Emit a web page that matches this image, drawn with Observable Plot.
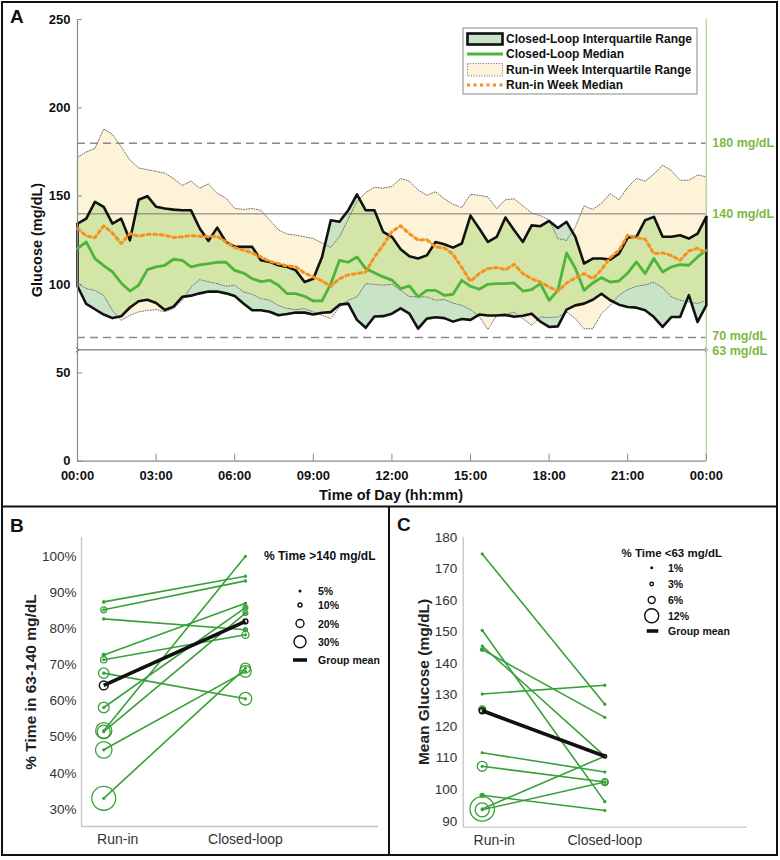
<!DOCTYPE html>
<html>
<head>
<meta charset="utf-8">
<script src="https://cdn.jsdelivr.net/npm/d3@7"></script>
<script src="https://cdn.jsdelivr.net/npm/@observablehq/plot@0.6"></script>
<style>
  body { margin: 0; background: #fff; }
  #wrap { position: relative; width: 780px; height: 860px; overflow: hidden; background: #fff; }
  #wrap svg { display: block; }
</style>
</head>
<body>
<div id="wrap"></div>
<script>
// ---------------- DATA: Panel A (glucose profile, 20-minute grid) ----------------
const minutes = [0,20,40,60,80,100,120,140,160,180,200,220,240,260,280,300,320,340,360,380,400,420,440,460,480,500,520,540,560,580,600,620,640,660,680,700,720,740,760,780,800,820,840,860,880,900,920,940,960,980,1000,1020,1040,1060,1080,1100,1120,1140,1160,1180,1200,1220,1240,1260,1280,1300,1320,1340,1360,1380,1400,1420,1440];

const runHi = [172,175,177, 188,185,178, 170.5,166,165, 164,163,160, 156,158.5,154.5, 157,151.5,149, 143,142.5,143, 142,136.5,131, 128.5,128,127, 126,123.5,121, 127,137,147, 152,155,154.5, 155.5,160,158.5, 153.5,150.5,152.5, 148.5,145.5,143.5, 151,150.5,149.5, 143,148,148.5, 144.5,140.5,139, 136.5,126,125, 132.5,144.5,142.5, 146,151.5,148, 155,160,158.5, 162.5,167.5,164.5, 159,159,162, 161];
const runLo = [100.5,97.7,96.7, 93.9,85.4,79.7, 82.6,84.5,85.4, 85.8,84.5,86.4, 91.1,98.6,102.8, 101.5,100.5,99, 99.6,95.8,94.5, 92,91.1,88.2, 86.4,85.8,86.4, 84.5,82.6,80.7, 87.3,91.1,93, 100.5,100.1,99.6, 100.1,96.7,93.3, 93,93,91.1, 91.5,89.5,88.2, 85.8,82,74.5, 82.6,83,84.3, 80.7,76.9,81.6, 81.3,81.6,84.5, 80.7,75,75, 83.5,88.2,93.9, 97.1,99,99.8, 101.3,98.2,93, 91.1,90.1,89.2, 91.1];
const runMed = [131.7,127.5,126.6, 133.2,129.2,123.2, 128.8,127.3,128.4, 128.4,127.9,126.6, 127,127.7,127.3, 127,127.3,124.1, 120.9,119.4,117.9, 115.6,113.1,111.8, 110.5,110,106.5, 104.3,102,99, 103.3,105.4,106.2, 107.1,115.6,122.2, 130,133.2,128.8, 125.1,125.4,121.3, 120.7,117.1,109.6, 101.8,106.2,109, 109.6,108.4,111.4, 106.2,103.3,101.4, 98.6,96.2,100.9, 103.7,106.2,103.3, 108.4,115.2,119.4, 127.9,126.6,125.6, 117.5,117.9,116.4, 113.7,119,120.5, 117.9];
const clHi = [134.5,137.3,146.8, 144,134.5,137.3, 125,148,150, 144,143,142.4, 142,142,131.7, 124.7,132.2,124.1, 121.5,121.3,121.3, 113.7,112.8,110.9, 110,108,101.4, 103.3,115.6,136.4, 135.5,142,151, 142,142,129.8, 127,120,116, 114.7,116.5,124.1, 122.8,120.9,123.2, 139,131.7,124.1, 126.9,137.9,130.7, 124.1,133.5,133, 136,132,135.5, 127,111.9,114.7, 114.7,114.1,117.5, 126.6,127,136.4, 138.3,127,127, 127.9,126,128.8, 138.3];
const clLo = [99,89,86, 83,81,82, 87,90.5,91.4, 89.5,85.6,87.5, 93,93.7,95, 96,96,95, 93.5,89.3,85.4, 85.4,84.6,82.6, 83.3,84.2,84.1, 83,84,84.4, 88.6,89.2,80, 75.5,81.9,82.1, 83.5,86.5,83.5, 75,80.7,81.5, 81,79,80.5, 80,83,82.5, 82.5,82.8,81.8, 82.3,83.5,79, 76,76.3,85.8, 88.2,89.2,91.4, 94.8,91.1,88.6, 87.3,86.9,85.4, 81.6,76,81.6, 81.6,94,78.8, 88.2];
const clMed = [120.3,124.1,114.7, 110.7,107.1,100.9, 96.3,99.6,108.4, 110,110.9,114.3, 113.7,110,111.1, 111.8,112.6,112.6, 108,106.5,103.3, 101.6,102.4,99.6, 94.8,94.8,93.3, 90.7,90.7,100.5, 113.7,112.6,115.6, 109,106.7,104.3, 102.5,97.7,99.2, 93,96.7,96.7, 93.9,94.5,102.4, 99,97.3,100.1, 100.5,100.5,100.9, 96.3,97.1,100.5, 91,96.7,117.9, 109.2,96.7,100.9, 103.9,101.4,102, 106.5,112.8,106.2, 114.7,107.1,110, 111.3,110.9,115.6, 119.4];

const xDomainA = [0, 24];
const yDomainA = [0, 250];
const xTicksA = [0, 3, 6, 9, 12, 15, 18, 21, 24];
const xTickLabelsA = ["00:00","03:00","06:00","09:00","12:00","15:00","18:00","21:00","00:00"];
const yTicksA = [0, 50, 100, 150, 200, 250];
const refDashed = [180, 70];
const refSolid = [140];
const refArrow = [63];
const refLabelVals = [180, 140, 70, 63];
const refLabels = ["180 mg/dL", "140 mg/dL", "70 mg/dL", "63 mg/dL"];
const legendA = ["Closed-Loop Interquartile Range", "Closed-Loop Median", "Run-in Week Interquartile Range", "Run-in Week Median"];

// ---------------- DATA: Panel B ----------------
const categories = ["Run-in", "Closed-loop"];
const bRun   = [87.4, 85.2, 82.7, 72.7, 71.4, 67.7, 58.2, 51.8, 51.5, 46.5, 33.1];
const bCl    = [94.5, 93.2, 79.7, 87.0, 78.3, 60.6, 85.8, 100, 84.3, 68.2, 69.1];
const bHighRun = [5, 15, 4, 8, 16, 26, 27, 42, 33, 43, 64];
const bHighCl  = [3, 4, 10, 5, 18, 32, 12, 1, 12, 29, 25];
const bMean = [64.3, 82.0];
const bMeanHigh = [22, 12];
const bYTicks = [30, 40, 50, 60, 70, 80, 90, 100];
const bLegendVals = [5, 10, 20, 30];
const bLegendTitle = "% Time >140 mg/dL";

// ---------------- DATA: Panel C ----------------
const cRun   = [174.7, 150.5, 145.5, 144.4, 130.3, 125.4, 111.7, 107.4, 98.2, 93.9, 93.6];
const cCl    = [127.1, 96.2, 110.6, 122.9, 133.1, 110.6, 105.6, 102.4, 93.4, 110.6, 102.4];
const cLowRun = [0.5, 1, 1, 3, 1, 6, 1, 8.5, 3.5, 21, 12];
const cLowCl  = [1, 1, 1, 1, 1, 1, 1, 6, 1, 1, 5];
const cMean = [125.0, 110.6];
const cMeanLow = [5, 3];
const cYTicks = [90, 100, 110, 120, 130, 140, 150, 160, 170, 180];
const cLegendVals = [1, 3, 6, 12];
const cLegendTitle = "% Time <63 mg/dL";

// ---------------- STYLE ----------------
const FONT = '"Liberation Sans", Arial, Helvetica, sans-serif';
const BEIGE = "#FCF3D9", TEAL = "#C9E3C7", OVERLAP = "#D3E6A8";
const CLGREEN = "#4DB539", ORANGE = "#F5911F", LABGREEN = "#7DB942";
const G = "#38A038";

// ---------------- PANEL A ----------------
const A = minutes.map((m, i) => {
  const lo = Math.max(runLo[i], clLo[i]);
  const hi = Math.min(runHi[i], clHi[i]);
  return { t: m / 60, rHi: runHi[i], rLo: runLo[i], rMed: runMed[i], cHi: clHi[i], cLo: clLo[i], cMed: clMed[i], oLo: lo, oHi: Math.max(lo, hi) };
});
const ends = [A[0], A[A.length - 1]];
const refLab = refLabelVals.map((v, i) => ({ v, s: refLabels[i] }));

const plotA = Plot.plot({
  width: 780, height: 505,
  marginLeft: 77, marginRight: 74.2, marginTop: 19, marginBottom: 44.3,
  style: { fontFamily: FONT, background: "transparent", overflow: "visible" },
  x: { domain: xDomainA, axis: null, label: null },
  y: { domain: yDomainA, axis: null, label: null },
  marks: [
    Plot.areaY(A, { x: "t", y1: "rLo", y2: "rHi", fill: BEIGE }),
    Plot.areaY(A, { x: "t", y1: "cLo", y2: "cHi", fill: TEAL }),
    Plot.areaY(A, { x: "t", y1: "oLo", y2: "oHi", fill: OVERLAP }),
    Plot.line(A, { x: "t", y: "rHi", stroke: "#6f6f6f", strokeWidth: 1, strokeDasharray: "1,1.6" }),
    Plot.line(A, { x: "t", y: "rLo", stroke: "#6f6f6f", strokeWidth: 1, strokeDasharray: "1,1.6" }),
    Plot.ruleX(ends, { x: "t", y1: "rLo", y2: "rHi", stroke: "#6f6f6f", strokeWidth: 1, strokeDasharray: "1,1.6" }),
    Plot.ruleY(refDashed, { stroke: "#8a8a8a", strokeWidth: 1.4, strokeDasharray: "8,5" }),
    Plot.ruleY(refSolid, { stroke: "#777", strokeWidth: 1 }),
    Plot.link(refArrow, { x1: () => xDomainA[0], x2: () => xDomainA[1], y1: d => d, y2: d => d, stroke: "#555", strokeWidth: 1, markerStart: "arrow", markerEnd: "arrow" }),
    Plot.ruleX([xDomainA[1]], { stroke: "#B9DBA1", strokeWidth: 1.5 }),
    Plot.line(A, { x: "t", y: "cHi", stroke: "#111", strokeWidth: 2.6 }),
    Plot.line(A, { x: "t", y: "cLo", stroke: "#111", strokeWidth: 2.6 }),
    Plot.ruleX(ends, { x: "t", y1: "cLo", y2: "cHi", stroke: "#111", strokeWidth: 2.6 }),
    Plot.line(A, { x: "t", y: "cMed", stroke: CLGREEN, strokeWidth: 2.8 }),
    Plot.line(A, { x: "t", y: "rMed", stroke: ORANGE, strokeWidth: 3, strokeDasharray: "3,3.5" }),
    Plot.ruleX([xDomainA[0]], { stroke: "#8a8a8a", strokeWidth: 1.2 }),
    Plot.ruleY([yDomainA[0]], { stroke: "#8a8a8a", strokeWidth: 1.2 }),
    Plot.text(refLab.slice(0, 2), { x: () => xDomainA[1], y: "v", text: "s", dx: 6, textAnchor: "start", fill: LABGREEN, fontWeight: "bold", fontSize: 12.5 }),
    Plot.text(refLab.slice(2, 3), { x: () => xDomainA[1], y: "v", text: "s", dx: 6, dy: -1.5, textAnchor: "start", fill: LABGREEN, fontWeight: "bold", fontSize: 12.5 }),
    Plot.text(refLab.slice(3, 4), { x: () => xDomainA[1], y: "v", text: "s", dx: 6, dy: 1.5, textAnchor: "start", fill: LABGREEN, fontWeight: "bold", fontSize: 12.5 }),
    Plot.axisY(yTicksA, { tickSize: 0, tickPadding: 7, fontSize: 13, fontWeight: "bold", fill: "#111", label: null }),
    Plot.axisY(yTicksA, { tickSize: 5, dx: 5, tickFormat: () => "", stroke: "#8a8a8a", label: null }),
    Plot.axisX(xTicksA, { tickSize: 0, tickPadding: 10, tickFormat: d => xTickLabelsA[xTicksA.indexOf(d)], fontSize: 13, fontWeight: "bold", fill: "#111", label: null }),
    Plot.axisX(xTicksA, { tickSize: 7, dy: -7, tickFormat: () => "", stroke: "#8a8a8a", label: null })
  ]
});

// ---------------- PANEL B ----------------
const bXDom = [0.843, 2.939], bYDom = [25.3, 105.2];
const bSubj = bRun.map((v, i) => ({ run: v, cl: bCl[i] }));
const bPts = bRun.map((v, i) => ({ x: 1, y: v, r: bHighRun[i] })).concat(bCl.map((v, i) => ({ x: 2, y: v, r: bHighCl[i] })));
const bMeanPts = bMean.map((v, i) => ({ x: i + 1, y: v, r: bMeanHigh[i] }));
const bR = { type: "linear", domain: [0, 30, 70], range: [0, 6, 13] };

const plotB = Plot.plot({
  width: 389, height: 350,
  marginLeft: 81, marginRight: 11, marginTop: 31, marginBottom: 30,
  style: { fontFamily: FONT, background: "transparent", overflow: "visible" },
  x: { domain: bXDom, axis: null, label: null },
  y: { domain: bYDom, axis: null, label: null },
  r: bR,
  marks: [
    Plot.ruleX([bXDom[0]], { stroke: "#c4c4c4", strokeWidth: 1.3 }),
    Plot.ruleY([bYDom[0]], { stroke: "#c4c4c4", strokeWidth: 1.3 }),
    Plot.link(bSubj, { x1: () => 1, x2: () => 2, y1: "run", y2: "cl", stroke: G, strokeWidth: 1.6 }),
    Plot.dot(bPts, { x: "x", y: "y", r: "r", stroke: G, strokeWidth: 1.3, fill: "none" }),
    Plot.dot(bPts, { x: "x", y: "y", r: 1.6, fill: G }),
    Plot.link([bMean], { x1: () => 1, x2: () => 2, y1: d => d[0], y2: d => d[1], stroke: "#111", strokeWidth: 3.6 }),
    Plot.dot(bMeanPts, { x: "x", y: "y", r: "r", stroke: "#111", strokeWidth: 1.5, fill: "none" }),
    Plot.axisY(bYTicks, { tickSize: 0, tickPadding: 5, tickFormat: d => d + "%", fontSize: 13.5, fill: "#333", label: null }),
    Plot.axisX([1], { tickSize: 0, tickPadding: 8, tickFormat: () => categories[0], dx: 14, fontSize: 14, fill: "#333", label: null }),
    Plot.axisX([2], { tickSize: 0, tickPadding: 8, tickFormat: () => categories[1], fontSize: 14, fill: "#333", label: null })
  ]
});

// ---------------- PANEL C ----------------
const cXDom = [0.845, 3.161], cYDom = [88.1, 180];
const cSubj = cRun.map((v, i) => ({ run: v, cl: cCl[i] }));
const cPts = cRun.map((v, i) => ({ x: 1, y: v, r: cLowRun[i] })).concat(cCl.map((v, i) => ({ x: 2, y: v, r: cLowCl[i] })));
const cMeanPts = cMean.map((v, i) => ({ x: i + 1, y: v, r: cMeanLow[i] }));
const cR = { type: "linear", domain: [0, 12], range: [0, 7] };

const plotC = Plot.plot({
  width: 387, height: 350,
  marginLeft: 72.7, marginRight: 30.3, marginTop: 30.7, marginBottom: 29.3,
  style: { fontFamily: FONT, background: "transparent", overflow: "visible" },
  x: { domain: cXDom, axis: null, label: null },
  y: { domain: cYDom, axis: null, label: null },
  r: cR,
  marks: [
    Plot.ruleX([cXDom[0]], { stroke: "#c4c4c4", strokeWidth: 1.3 }),
    Plot.ruleY([cYDom[0]], { stroke: "#c4c4c4", strokeWidth: 1.3 }),
    Plot.link(cSubj, { x1: () => 1, x2: () => 2, y1: "run", y2: "cl", stroke: G, strokeWidth: 1.6 }),
    Plot.dot(cPts, { x: "x", y: "y", r: "r", stroke: G, strokeWidth: 1.3, fill: "none" }),
    Plot.dot(cPts, { x: "x", y: "y", r: 1.6, fill: G }),
    Plot.link([cMean], { x1: () => 1, x2: () => 2, y1: d => d[0], y2: d => d[1], stroke: "#111", strokeWidth: 3.6 }),
    Plot.dot(cMeanPts, { x: "x", y: "y", r: "r", stroke: "#111", strokeWidth: 1.5, fill: "none" }),
    Plot.axisY(cYTicks, { tickSize: 0, tickPadding: 6, fontSize: 13.5, fill: "#333", label: null }),
    Plot.axisX([1], { tickSize: 0, tickPadding: 8, tickFormat: () => categories[0], dx: 12, fontSize: 14, fill: "#333", label: null }),
    Plot.axisX([2], { tickSize: 0, tickPadding: 8, tickFormat: () => categories[1], fontSize: 14, fill: "#333", label: null })
  ]
});

// ---------------- LAYOUT ----------------
const wrap = document.getElementById("wrap");
function place(el, left, top) {
  const d = document.createElement("div");
  d.style.position = "absolute"; d.style.left = left + "px"; d.style.top = top + "px";
  d.appendChild(el); wrap.appendChild(d);
}
place(plotA, 0, 0);
place(plotB, 0, 506);
place(plotC, 390, 506);

// overlay for frames, titles, legends
const ov = d3.select(wrap).append("svg")
  .attr("width", 780).attr("height", 860)
  .style("position", "absolute").style("left", "0px").style("top", "0px")
  .style("pointer-events", "none");

// frames
ov.append("rect").attr("x", 2).attr("y", 2).attr("width", 775).attr("height", 853).attr("fill", "none").attr("stroke", "#111").attr("stroke-width", 2);
ov.append("line").attr("x1", 2).attr("x2", 777).attr("y1", 506.5).attr("y2", 506.5).attr("stroke", "#111").attr("stroke-width", 2);
ov.append("line").attr("x1", 389).attr("x2", 389).attr("y1", 506.5).attr("y2", 855).attr("stroke", "#111").attr("stroke-width", 2);

function txt(s, x, y, o = {}) {
  const t = ov.append("text").attr("x", x).attr("y", y)
    .attr("dominant-baseline", "central")
    .attr("text-anchor", o.anchor || "start")
    .attr("font-size", o.size || 12)
    .attr("font-weight", o.weight || "bold")
    .attr("fill", o.fill || "#111")
    .attr("font-family", FONT)
    .text(s);
  if (o.rot) t.attr("transform", `rotate(-90 ${x} ${y})`);
  return t;
}

// panel letters
txt("A", 10, 16, { size: 19 });
txt("B", 10, 525, { size: 19 });
txt("C", 397, 524, { size: 19 });

// axis titles
txt("Glucose (mg/dL)", 37, 240, { anchor: "middle", size: 14.5, rot: true });
txt("Time of Day (hh:mm)", 391, 494.5, { anchor: "middle", size: 14.5 });
txt("% Time in 63-140 mg/dL", 30, 682, { anchor: "middle", size: 15.5, fill: "#222", rot: true });
txt("Mean Glucose (mg/dL)", 423, 682, { anchor: "middle", size: 15.5, fill: "#222", rot: true });

// legend A
ov.append("rect").attr("x", 463).attr("y", 28).attr("width", 234).attr("height", 66).attr("fill", "#fff").attr("stroke", "#888").attr("stroke-width", 1);
const rowsA = [39, 54, 70, 85];
ov.append("rect").attr("x", 467.5).attr("y", 33.5).attr("width", 35).attr("height", 11).attr("fill", TEAL).attr("stroke", "#111").attr("stroke-width", 2.6);
ov.append("line").attr("x1", 467).attr("x2", 503).attr("y1", rowsA[1]).attr("y2", rowsA[1]).attr("stroke", CLGREEN).attr("stroke-width", 3);
ov.append("rect").attr("x", 467.5).attr("y", 63.5).attr("width", 35).attr("height", 12.5).attr("fill", BEIGE).attr("stroke", "#6f6f6f").attr("stroke-width", 1).attr("stroke-dasharray", "1,1.6");
ov.append("line").attr("x1", 467).attr("x2", 503).attr("y1", rowsA[3]).attr("y2", rowsA[3]).attr("stroke", ORANGE).attr("stroke-width", 3).attr("stroke-dasharray", "3,3.5");
legendA.forEach((s, i) => txt(s, 506, rowsA[i], { size: 12 }));

// radius helper through the plot's own scale
function rOf(plot, spec) {
  try { const s = plot.scale("r"); if (s && typeof s.apply === "function") return v => s.apply(v); } catch (e) {}
  return d3.scaleLinear(spec.domain, spec.range);
}
function legendCircles(rf, vals, cx, cys, lx, unit) {
  vals.forEach((v, i) => {
    const r = rf(v);
    if (r < 1.5) ov.append("circle").attr("cx", cx).attr("cy", cys[i]).attr("r", 1.5).attr("fill", "#111");
    else ov.append("circle").attr("cx", cx).attr("cy", cys[i]).attr("r", r).attr("fill", "none").attr("stroke", "#111").attr("stroke-width", 1.4);
    txt(v + unit, lx, cys[i], { size: 10.5 });
  });
}

// legend B
txt(bLegendTitle, 264, 556, { size: 12 });
legendCircles(rOf(plotB, bR), bLegendVals, 300, [591, 605, 623.5, 641.7], 318, "%");
ov.append("line").attr("x1", 293).attr("x2", 307).attr("y1", 660).attr("y2", 660).attr("stroke", "#111").attr("stroke-width", 3.6);
txt("Group mean", 318, 660, { size: 10.5 });

// legend C
txt(cLegendTitle, 621.5, 553.3, { size: 11.5 });
legendCircles(rOf(plotC, cR), cLegendVals, 651.7, [567.7, 584, 600, 615.7], 668, "%");
ov.append("line").attr("x1", 646.7).attr("x2", 658.3).attr("y1", 631).attr("y2", 631).attr("stroke", "#111").attr("stroke-width", 3.6);
txt("Group mean", 668, 631, { size: 10.5 });
</script>
</body>
</html>
